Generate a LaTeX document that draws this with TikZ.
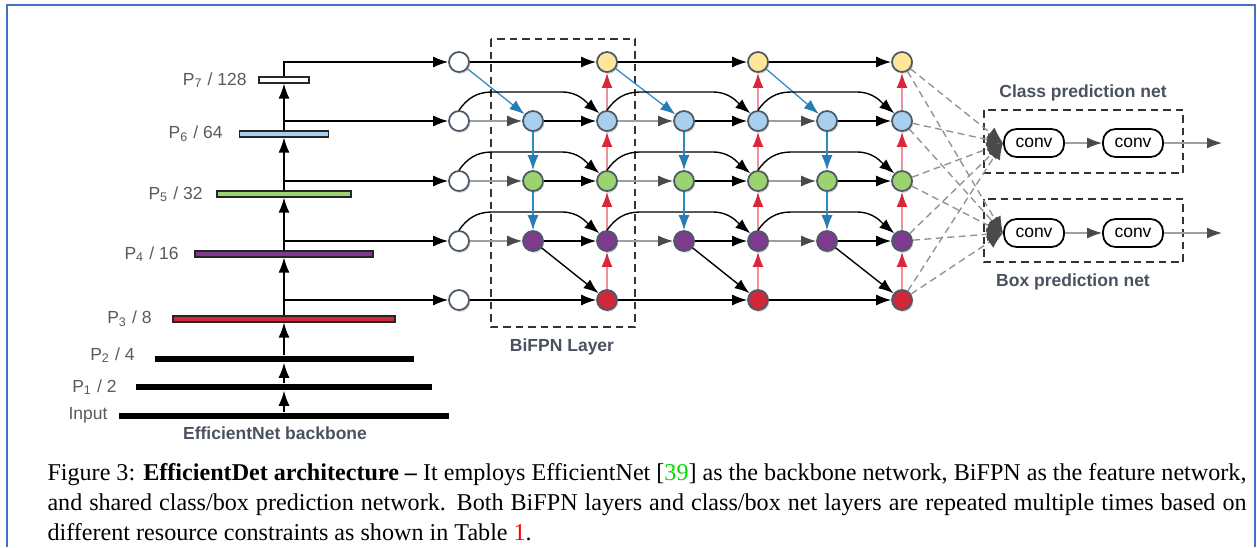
\documentclass[tikz,border=0pt]{standalone}
\usepackage{fontspec}
\setmainfont{Liberation Serif}
\setsansfont{Liberation Sans}
\usetikzlibrary{arrows.meta,calc,shadows}

\definecolor{nodeline}{HTML}{4B5966}
\definecolor{lv7}{HTML}{FFE699}
\definecolor{lv6}{HTML}{A8D0EE}
\definecolor{lv5}{HTML}{9BD36E}
\definecolor{lv4}{HTML}{7E3A8C}
\definecolor{lv3}{HTML}{D0283A}
\definecolor{tdblue}{HTML}{2B8AC8}
\definecolor{bured}{HTML}{D9263A}
\definecolor{labgray}{HTML}{555B63}
\definecolor{titlegray}{HTML}{4A5260}
\definecolor{frameblue}{HTML}{4472C4}
\definecolor{citegreen}{HTML}{00DD00}
\definecolor{tipgray}{HTML}{4A4A4A}

\newcommand\dgmfont{\fontsize{7pt}{8.4pt}\selectfont\sffamily}

\tikzset{
  fn/.style={circle, draw=nodeline, line width=0.7pt, minimum size=8pt, inner sep=0pt,
             fill=white, drop shadow={shadow xshift=0.5pt, shadow yshift=-0.7pt, opacity=0.18, fill=black}},
  tip/.style={-{Latex[length=6pt,width=4.4pt]}},
  arr/.style={line width=0.55pt, tip},
  garr/.style={line width=0.55pt, draw=gray!75, -{Latex[length=6pt,width=4.4pt,color=tipgray]}},
  barr/.style={line width=0.5pt, draw=tdblue, -{Latex[length=6pt,width=4.4pt,color=tdblue!90!black]}},
  rarr/.style={line width=0.7pt, draw=bured!50, -{Latex[length=6pt,width=4.4pt,color=bured]}},
  darr/.style={line width=0.55pt, draw=gray!85, dash pattern=on 2.8pt off 1.8pt,
               -{Latex[length=6.5pt,width=5.5pt,color=tipgray]}},
  fbar/.style={rectangle, draw=black!85, line width=0.5pt, minimum height=2.4pt, inner sep=0pt},
  kbar/.style={rectangle, fill=black, minimum height=2.6pt, inner sep=0pt},
  lab/.style={anchor=east, text=labgray, font=\dgmfont, inner sep=0pt},
  ttl/.style={text=titlegray, font=\dgmfont\bfseries, inner sep=0pt},
  dbox/.style={draw=black!80, line width=0.8pt, dash pattern=on 3pt off 2pt},
  convbox/.style={rectangle, rounded corners=5pt, draw=black, line width=0.7pt, fill=white,
                  minimum width=24pt, minimum height=11.2pt, inner sep=0pt, font=\dgmfont},
  frame/.style={draw=frameblue, line width=0.8pt}
}

\begin{document}
\begin{tikzpicture}[x=0.4pt, y=-0.4pt]
\useasboundingbox (0,0) rectangle (1257,547);
\fill[white] (0,0) rectangle (1257,547);
\draw[frame] (7,547) -- (7,5) -- (1255,5) -- (1255,547);

% ---------------- EfficientNet backbone ----------------
\node[fbar, fill=white, minimum width=20pt]   (p7) at (284,80)  {};
\node[fbar, fill=lv6,   minimum width=35.6pt] (p6) at (284,134) {};
\node[fbar, fill=lv5,   minimum width=53.6pt] (p5) at (284,194) {};
\node[fbar, fill=lv4,   minimum width=71.2pt] (p4) at (284,254) {};
\node[fbar, fill=lv3,   minimum width=88.8pt] (p3) at (284,319) {};
\node[kbar, minimum width=103.6pt] (p2) at (284,359) {};
\node[kbar, minimum width=118.4pt] (p1) at (284,387) {};
\node[kbar, minimum width=131.6pt] (pin) at (284,416) {};

\node[lab] (l7) at (247,80)  {P\textsubscript{7} / 128};
\node[lab] (l6) at (223,134) {P\textsubscript{6} / 64};
\node[lab] (l5) at (203,194) {P\textsubscript{5} / 32};
\node[lab] (l4) at (179,254) {P\textsubscript{4} / 16};
\node[lab] (l3) at (152,319) {P\textsubscript{3} / 8};
\node[lab] (l2) at (135,355) {P\textsubscript{2} / 4};
\node[lab] (l1) at (117,387) {P\textsubscript{1} / 2};
\node[lab] (lin) at (108,415) {Input};
\node[ttl] (tbb) at (275,433) {EfficientNet backbone};

\draw[arr] (pin.north) -- (p1.south);
\draw[arr] (p1.north) -- (p2.south);
\draw[arr] (p2.north) -- (p3.south);
\draw[arr] (p3.north) -- (p4.south);
\draw[arr] (p4.north) -- (p5.south);
\draw[arr] (p5.north) -- (p6.south);
\draw[arr] (p6.north) -- (p7.south);

% ---------------- BiFPN ----------------
\draw[dbox] (491,39) rectangle (635,327);
\node[ttl] (tbi) at (562,347) {BiFPN Layer};

% input column
\foreach \r/\y in {7/62,6/121,5/181,4/241,3/300}
  \node[fn] (n0\r) at (459,\y) {};
% output columns
\foreach \c/\x in {2/607,4/758,6/902}
  \foreach \r/\y in {7/62,6/121,5/181,4/241,3/300}
    \node[fn, fill=lv\r] (n\c\r) at (\x,\y) {};
% intermediate (top-down) columns
\foreach \c/\x in {1/533,3/684,5/827}
  \foreach \r/\y in {6/121,5/181,4/241}
    \node[fn, fill=lv\r] (n\c\r) at (\x,\y) {};

% backbone taps into the input column
\draw[arr] (p7.north) |- (n07);
\foreach \r/\y in {6/121,5/181,4/241,3/300}{
  \coordinate (s\r) at (284,\y);
  \draw[arr] (s\r) -- (n0\r);
}

% three repeated BiFPN layers
\foreach \a/\m/\o in {0/1/2, 2/3/4, 4/5/6}{
  \draw[arr]  (n\a7) -- (n\o7);
  \draw[barr] (n\a7) -- (n\m6);
  \foreach \r in {6,5,4}{
    \draw[garr] (n\a\r) -- (n\m\r);
    \draw[arr]  (n\m\r) -- (n\o\r);
    \draw[arr]  (n\a\r.north) to[out=55,in=180] ($(n\a\r)+(33,-29)$)
                -- ($(n\o\r)+(-45,-29)$) to[out=0,in=140] (n\o\r.north west);
  }
  \draw[barr] (n\m6) -- (n\m5);
  \draw[barr] (n\m5) -- (n\m4);
  \draw[arr]  (n\m4) -- (n\o3);
  \draw[arr]  (n\a3) -- (n\o3);
  \draw[rarr] (n\o3) -- (n\o4);
  \draw[rarr] (n\o4) -- (n\o5);
  \draw[rarr] (n\o5) -- (n\o6);
  \draw[rarr] (n\o6) -- (n\o7);
}

% ---------------- class / box prediction nets ----------------
\draw[dbox] (984,110) rectangle (1183,173);
\draw[dbox] (984,199) rectangle (1183,262);
\node[ttl] (tcl) at (1083,93)  {Class prediction net};
\node[ttl] (tbx) at (1073,282) {Box prediction net};

\coordinate (cin) at (1003,143);
\coordinate (bin) at (1003,233);
\foreach \r in {7,6,5,4,3}{
  \draw[darr] (n6\r) -- (cin);
  \draw[darr] (n6\r) -- (bin);
}

\node[convbox] (c1) at (1034,143) {conv};
\node[convbox] (c2) at (1133,143) {conv};
\node[convbox] (b1) at (1034,233) {conv};
\node[convbox] (b2) at (1133,233) {conv};
\coordinate (cout) at (1222,143);
\coordinate (bout) at (1222,233);
\draw[garr] (c1) -- (c2);
\draw[garr] (c2) -- (cout);
\draw[garr] (b1) -- (b2);
\draw[garr] (b2) -- (bout);

% ---------------- caption ----------------
\node[anchor=base west, text width=479.6pt, align=justify, inner sep=0pt,
      font=\fontsize{9.65pt}{12pt}\selectfont] (cap) at (47,480)
  {\hyphenpenalty=10000\relax\exhyphenpenalty=10000\relax
   Figure 3: \textbf{EfficientDet architecture --} It employs EfficientNet [{\color{citegreen}39}] as the backbone network, BiFPN as the feature network,\linebreak
   and shared class/box prediction network. Both BiFPN layers and class/box net layers are repeated multiple times based on\linebreak
   different resource constraints as shown in Table {\color{red}1}.};
\end{tikzpicture}
\end{document}
